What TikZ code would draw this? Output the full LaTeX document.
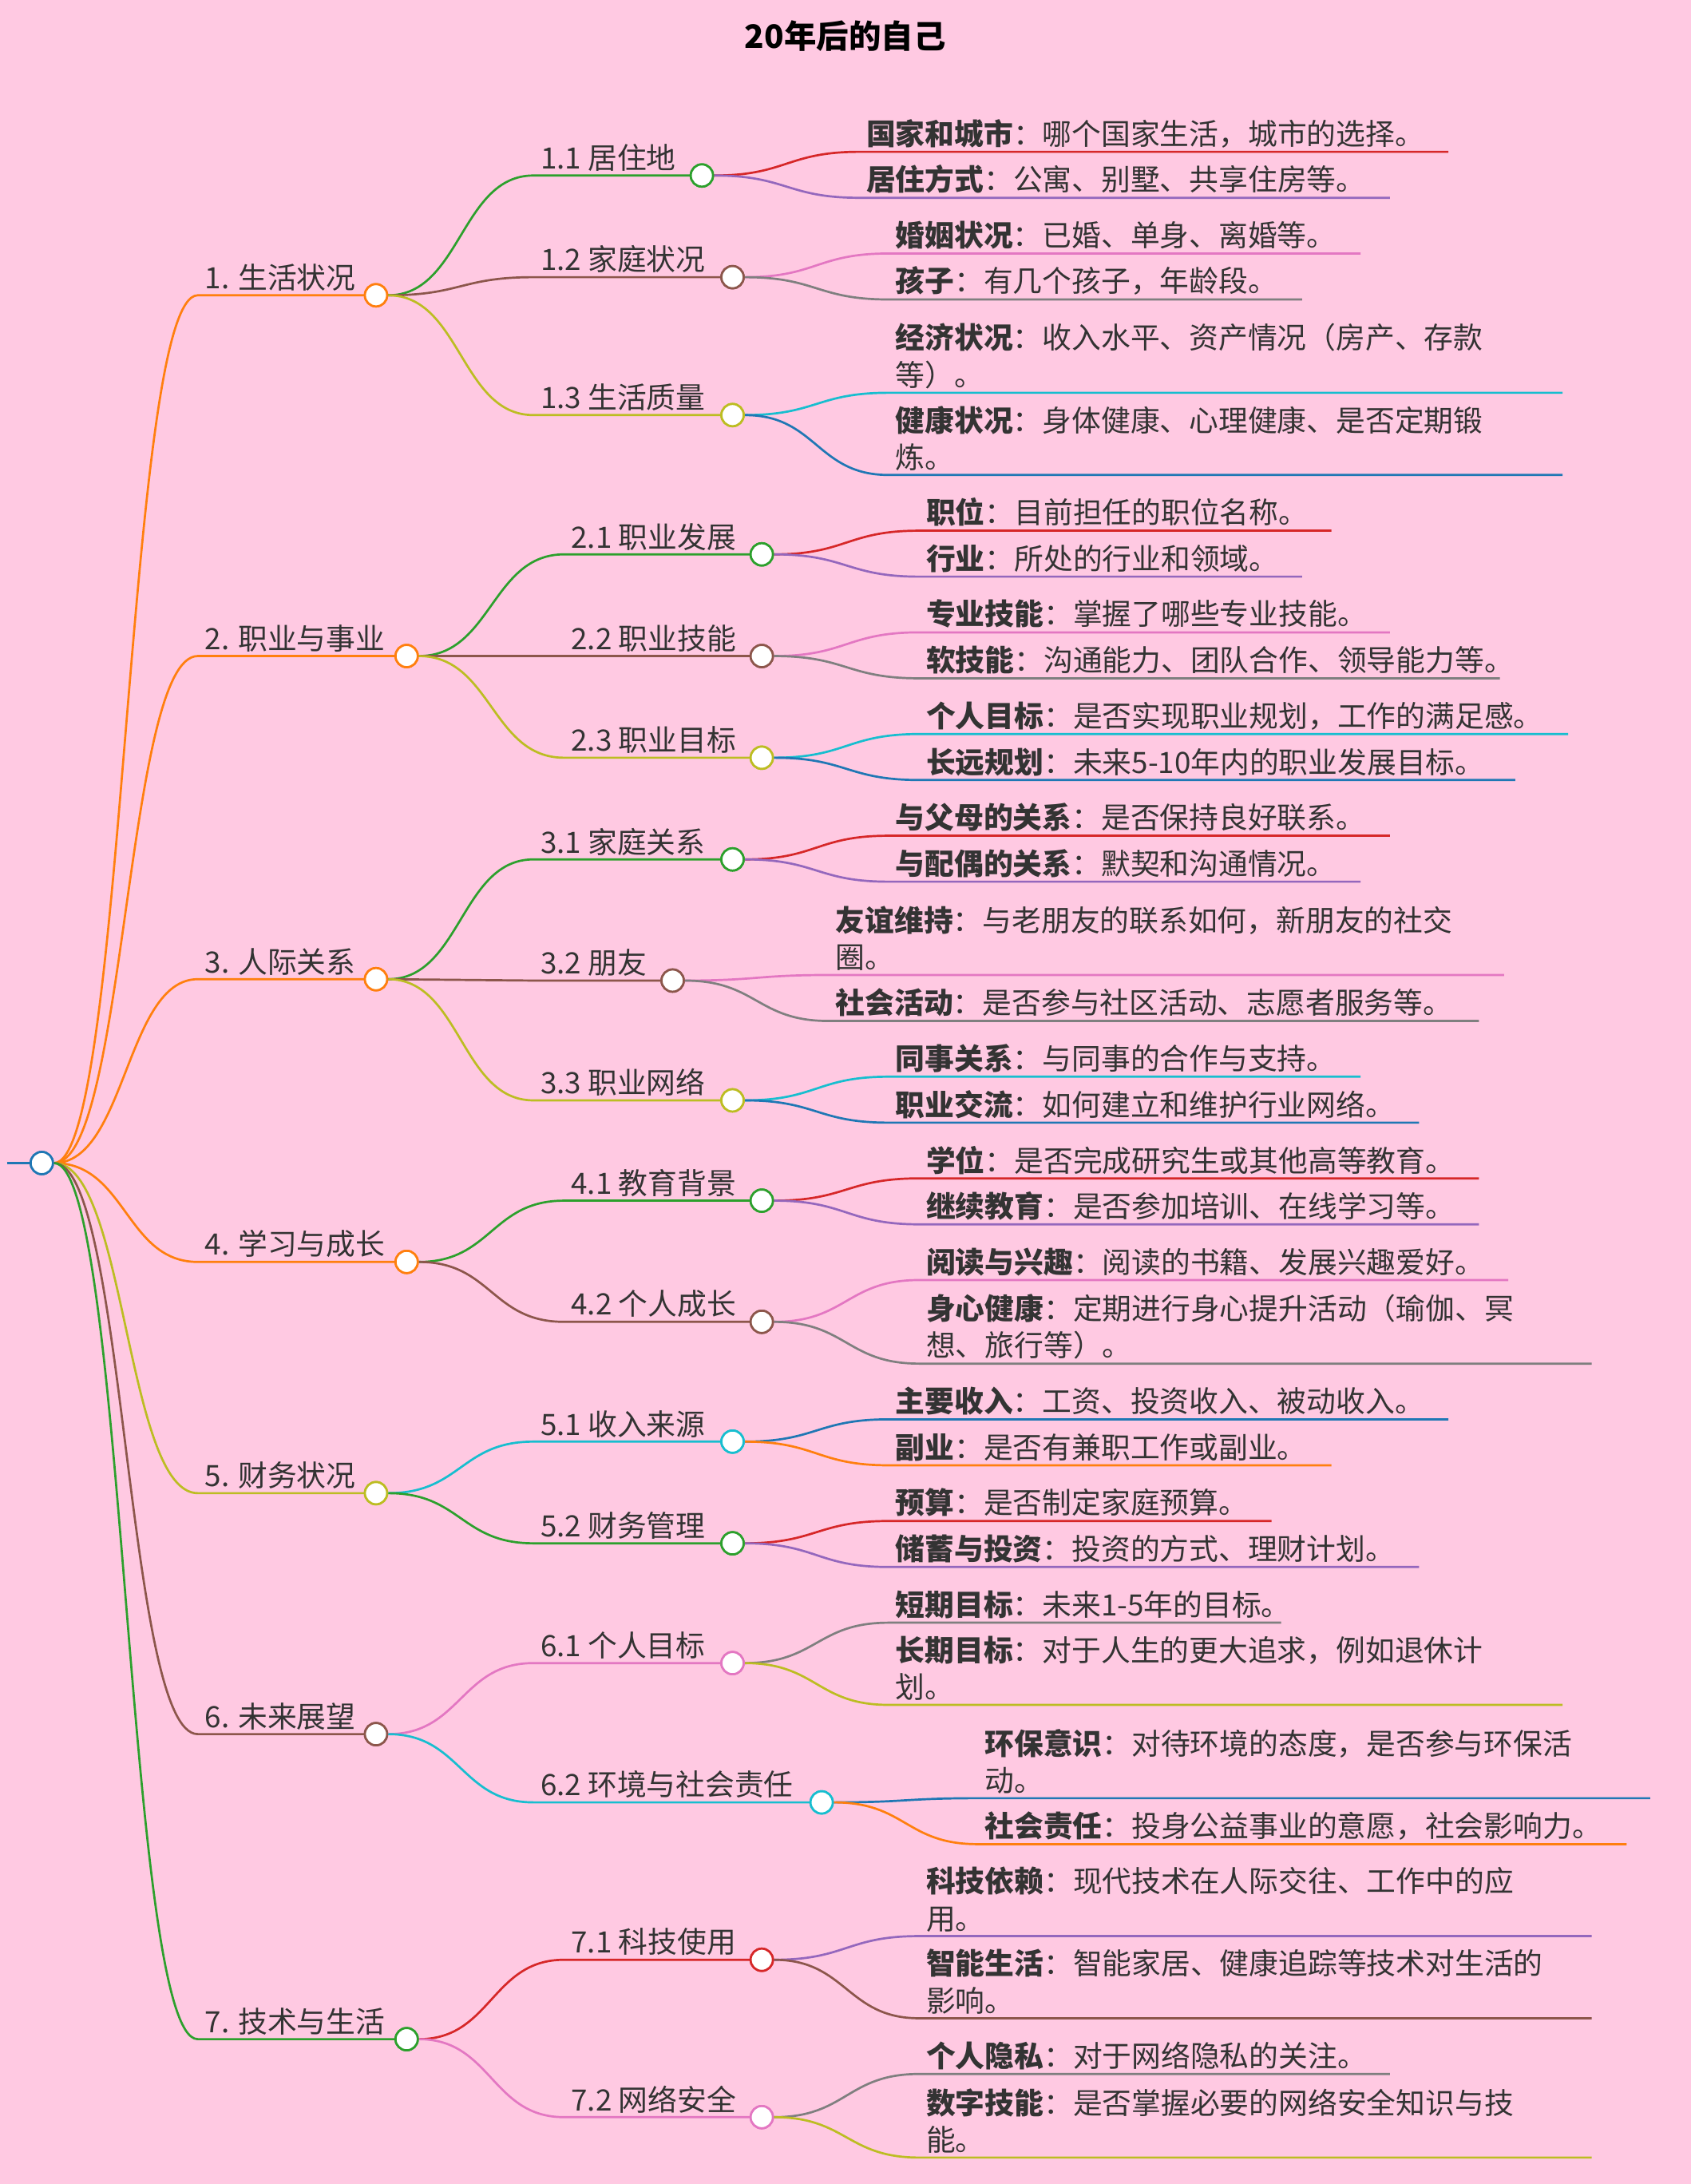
\documentclass[tikz,border=0pt]{standalone}
\usepackage{fontspec}
\setmainfont{Noto Sans CJK SC}
\usetikzlibrary{calc}
\definecolor{bgpink}{HTML}{FFC9E2}
\definecolor{txt}{HTML}{333333}
\definecolor{mo}{HTML}{FF7F0E}
\definecolor{mg}{HTML}{2CA02C}
\definecolor{mr}{HTML}{D62728}
\definecolor{mp}{HTML}{9467BD}
\definecolor{mb}{HTML}{8C564B}
\definecolor{mk}{HTML}{E377C2}
\definecolor{my}{HTML}{7F7F7F}
\definecolor{ml}{HTML}{BCBD22}
\definecolor{mc}{HTML}{17BECF}
\definecolor{mu}{HTML}{1F77B4}
\tikzset{
  wire/.style={line width=2.2pt},
  dot/.style={circle,fill=white,line width=2.2pt,minimum size=0.8cm,inner sep=0},
  lbl/.style={anchor=south west,inner xsep=0,inner ysep=4pt,align=left,text=txt,
    font=\fontsize{30}{38}\selectfont}
}
% topic: name, parent, colour, x start, y, x circle, text
\newcommand{\topic}[7]{%
  \coordinate (#1-s) at (#4,#5);
  \path ($(#2.east)!.5!(#1-s)$) coordinate (#1-m);
  \draw[wire,#3] (#2.east) .. controls (#1-m |- #2.east) and (#1-m |- #1-s) .. (#1-s) -- (#6,#5);
  \node[dot,draw=#3] (#1) at (#6,#5) {};
  \node[lbl] (#1-t) at ($(#1-s)+(5,0)$) {#7};}
% leaf: name, parent, colour, x text, y, x end, bold part, rest
\newcommand{\leaf}[8]{%
  \coordinate (#1-s) at ($(#4,#5)+(-5,0)$);
  \coordinate (#1-e) at (#6,#5);
  \path ($(#2.east)!.5!(#1-s)$) coordinate (#1-m);
  \draw[wire,#3] (#2.east) .. controls (#1-m |- #2.east) and (#1-m |- #1-s) .. (#1-s) -- (#1-e);
  \node[lbl] (#1-t) at (#4,#5) {\textbf{#7}：#8};}
\begin{document}
\begin{tikzpicture}[x=0.05cm,y=-0.05cm]
  \fill[bgpink] (0,0) rectangle (1214,1568);
  \useasboundingbox (0,0) rectangle (1214,1568);
  \node[font=\fontsize{33}{38}\selectfont\bfseries,text=black] (title) at (607,26) {20年后的自己};

  % root
  \coordinate (root-l) at (5,835);
  \draw[wire,mu] (root-l) -- (30,835);
  \node[dot,draw=mu] (root) at (30,835) {};

  % 1
  \topic{a}{root}{mo}{142}{212}{270}{1. 生活状况}
  \topic{a1}{a}{mg}{383}{126}{504}{1.1 居住地}
  \leaf{a11}{a1}{mr}{622}{109}{1040}{国家和城市}{哪个国家生活，城市的选择。}
  \leaf{a12}{a1}{mp}{622}{142}{998}{居住方式}{公寓、别墅、共享住房等。}
  \topic{a2}{a}{mb}{383}{199}{526}{1.2 家庭状况}
  \leaf{a21}{a2}{mk}{643}{182}{977}{婚姻状况}{已婚、单身、离婚等。}
  \leaf{a22}{a2}{my}{643}{215}{935}{孩子}{有几个孩子，年龄段。}
  \topic{a3}{a}{ml}{383}{298}{526}{1.3 生活质量}
  \leaf{a31}{a3}{mc}{643}{282}{1122}{经济状况}{收入水平、资产情况（房产、存款\\等）。}
  \leaf{a32}{a3}{mu}{643}{341}{1122}{健康状况}{身体健康、心理健康、是否定期锻\\炼。}

  % 2
  \topic{b}{root}{mo}{142}{471}{292}{2. 职业与事业}
  \topic{b1}{b}{mg}{405}{398}{547}{2.1 职业发展}
  \leaf{b11}{b1}{mr}{665}{381}{956}{职位}{目前担任的职位名称。}
  \leaf{b12}{b1}{mp}{665}{414}{935}{行业}{所处的行业和领域。}
  \topic{b2}{b}{mb}{405}{471}{547}{2.2 职业技能}
  \leaf{b21}{b2}{mk}{665}{454}{998}{专业技能}{掌握了哪些专业技能。}
  \leaf{b22}{b2}{my}{665}{487}{1077}{软技能}{沟通能力、团队合作、领导能力等。}
  \topic{b3}{b}{ml}{405}{544}{547}{2.3 职业目标}
  \leaf{b31}{b3}{mc}{665}{527}{1126}{个人目标}{是否实现职业规划，工作的满足感。}
  \leaf{b32}{b3}{mu}{665}{560}{1088}{长远规划}{未来5-10年内的职业发展目标。}

  % 3
  \topic{c}{root}{mo}{142}{703}{270}{3. 人际关系}
  \topic{c1}{c}{mg}{383}{617}{526}{3.1 家庭关系}
  \leaf{c11}{c1}{mr}{643}{600}{998}{与父母的关系}{是否保持良好联系。}
  \leaf{c12}{c1}{mp}{643}{633}{977}{与配偶的关系}{默契和沟通情况。}
  \topic{c2}{c}{mb}{383}{704}{483}{3.2 朋友}
  \leaf{c21}{c2}{mk}{600}{700}{1080}{友谊维持}{与老朋友的联系如何，新朋友的社交\\圈。}
  \leaf{c22}{c2}{my}{600}{733}{1062}{社会活动}{是否参与社区活动、志愿者服务等。}
  \topic{c3}{c}{ml}{383}{790}{526}{3.3 职业网络}
  \leaf{c31}{c3}{mc}{643}{773}{977}{同事关系}{与同事的合作与支持。}
  \leaf{c32}{c3}{mu}{643}{806}{1019}{职业交流}{如何建立和维护行业网络。}

  % 4
  \topic{d}{root}{mo}{142}{906}{292}{4. 学习与成长}
  \topic{d1}{d}{mg}{405}{862}{547}{4.1 教育背景}
  \leaf{d11}{d1}{mr}{665}{846}{1062}{学位}{是否完成研究生或其他高等教育。}
  \leaf{d12}{d1}{mp}{665}{879}{1062}{继续教育}{是否参加培训、在线学习等。}
  \topic{d2}{d}{mb}{405}{949}{547}{4.2 个人成长}
  \leaf{d21}{d2}{mk}{665}{919}{1083}{阅读与兴趣}{阅读的书籍、发展兴趣爱好。}
  \leaf{d22}{d2}{my}{665}{979}{1143}{身心健康}{定期进行身心提升活动（瑜伽、冥\\想、旅行等）。}

  % 5
  \topic{e}{root}{ml}{142}{1072}{270}{5. 财务状况}
  \topic{e1}{e}{mc}{383}{1035}{526}{5.1 收入来源}
  \leaf{e11}{e1}{mu}{643}{1019}{1040}{主要收入}{工资、投资收入、被动收入。}
  \leaf{e12}{e1}{mo}{643}{1052}{956}{副业}{是否有兼职工作或副业。}
  \topic{e2}{e}{mg}{383}{1108}{526}{5.2 财务管理}
  \leaf{e21}{e2}{mr}{643}{1092}{913}{预算}{是否制定家庭预算。}
  \leaf{e22}{e2}{mp}{643}{1125}{1019}{储蓄与投资}{投资的方式、理财计划。}

  % 6
  \topic{f}{root}{mb}{142}{1245}{270}{6. 未来展望}
  \topic{f1}{f}{mk}{383}{1194}{526}{6.1 个人目标}
  \leaf{f11}{f1}{my}{643}{1165}{920}{短期目标}{未来1-5年的目标。}
  \leaf{f12}{f1}{ml}{643}{1224}{1122}{长期目标}{对于人生的更大追求，例如退休计\\划。}
  \topic{f2}{f}{mc}{383}{1294}{590}{6.2 环境与社会责任}
  \leaf{f21}{f2}{mu}{707}{1291}{1185}{环保意识}{对待环境的态度，是否参与环保活\\动。}
  \leaf{f22}{f2}{mo}{707}{1324}{1168}{社会责任}{投身公益事业的意愿，社会影响力。}

  % 7
  \topic{g}{root}{mg}{142}{1464}{292}{7. 技术与生活}
  \topic{g1}{g}{mr}{405}{1407}{547}{7.1 科技使用}
  \leaf{g11}{g1}{mp}{665}{1390}{1143}{科技依赖}{现代技术在人际交往、工作中的应\\用。}
  \leaf{g12}{g1}{mb}{665}{1449}{1143}{智能生活}{智能家居、健康追踪等技术对生活的\\影响。}
  \topic{g2}{g}{mk}{405}{1520}{547}{7.2 网络安全}
  \leaf{g21}{g2}{my}{665}{1489}{998}{个人隐私}{对于网络隐私的关注。}
  \leaf{g22}{g2}{ml}{665}{1549}{1143}{数字技能}{是否掌握必要的网络安全知识与技\\能。}

  % redraw circles over wires
  \foreach \n/\c in {root/mu,a/mo,b/mo,c/mo,d/mo,e/ml,f/mb,g/mg,a1/mg,a2/mb,a3/ml,b1/mg,b2/mb,b3/ml,
    c1/mg,c2/mb,c3/ml,d1/mg,d2/mb,e1/mc,e2/mg,f1/mk,f2/mc,g1/mr,g2/mk}
    \node[dot,draw=\c] at (\n) {};
\end{tikzpicture}
\end{document}
